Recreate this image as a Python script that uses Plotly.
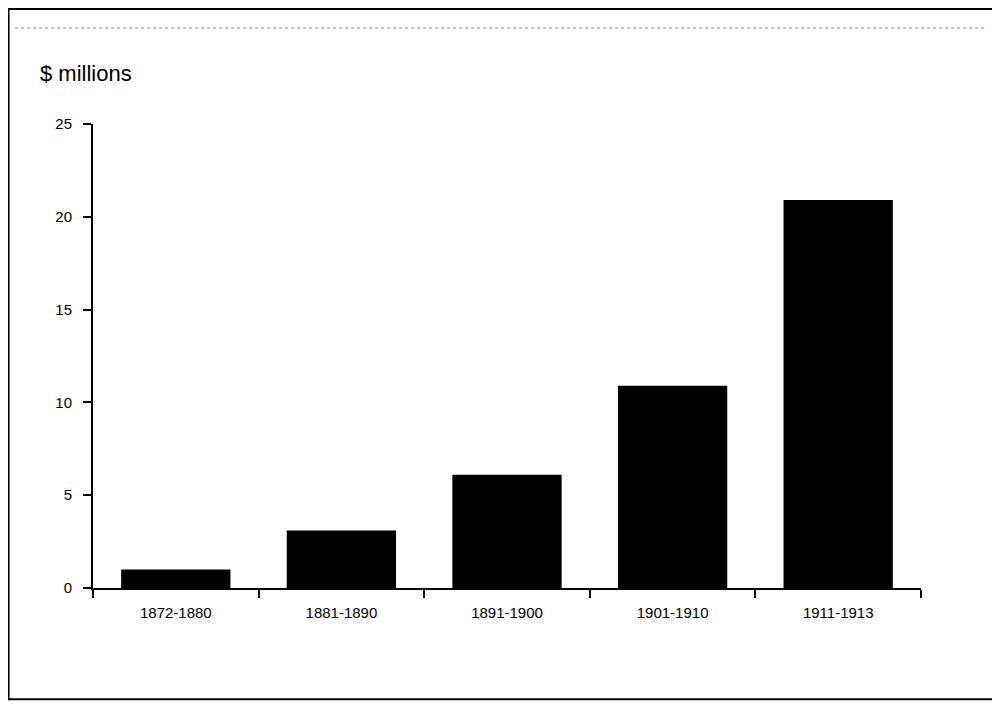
import plotly.graph_objects as go

periods = ["1872-1880", "1881-1890", "1891-1900", "1901-1910", "1911-1913"]
values = [1.0, 3.1, 6.1, 10.9, 20.9]
y_ticks = [0, 5, 10, 15, 20, 25]

fig = go.Figure(go.Bar(x=periods, y=values, marker=dict(color="black", line=dict(width=0)), width=0.66))

fig.update_layout(
    width=984, height=693,
    margin=dict(l=85, r=71, t=116, b=113),
    paper_bgcolor="white", plot_bgcolor="white",
    showlegend=False,
    font=dict(family="Liberation Sans, Arial", color="black", size=15),
    xaxis=dict(type="category", showline=True, linecolor="black", linewidth=2,
               ticks="outside", tickson="boundaries", ticklen=8, tickwidth=2, tickcolor="black",
               showgrid=False, range=[-0.5, 4.5], ticklabelstandoff=10),
    yaxis=dict(range=[0, 25], tickvals=y_ticks, showline=True, linecolor="black", linewidth=2,
               ticks="outside", ticklen=8, tickwidth=2, tickcolor="black", showgrid=False,
               zeroline=False, ticklabelstandoff=8),
    annotations=[dict(text="$ millions", xref="paper", yref="paper", x=-0.066, y=1.109,
                      xanchor="left", yanchor="middle", showarrow=False, font=dict(size=22))],
    shapes=[
        dict(type="rect", xref="paper", yref="paper", x0=-0.102, x1=1.088, y0=-0.24, y1=1.248,
             line=dict(color="black", width=2)),
        dict(type="line", xref="paper", yref="paper", x0=-0.094, x1=1.077, y0=1.207, y1=1.207,
             line=dict(color="gray", width=1, dash="dot")),
    ],
)
fig.write_html("out.html")
